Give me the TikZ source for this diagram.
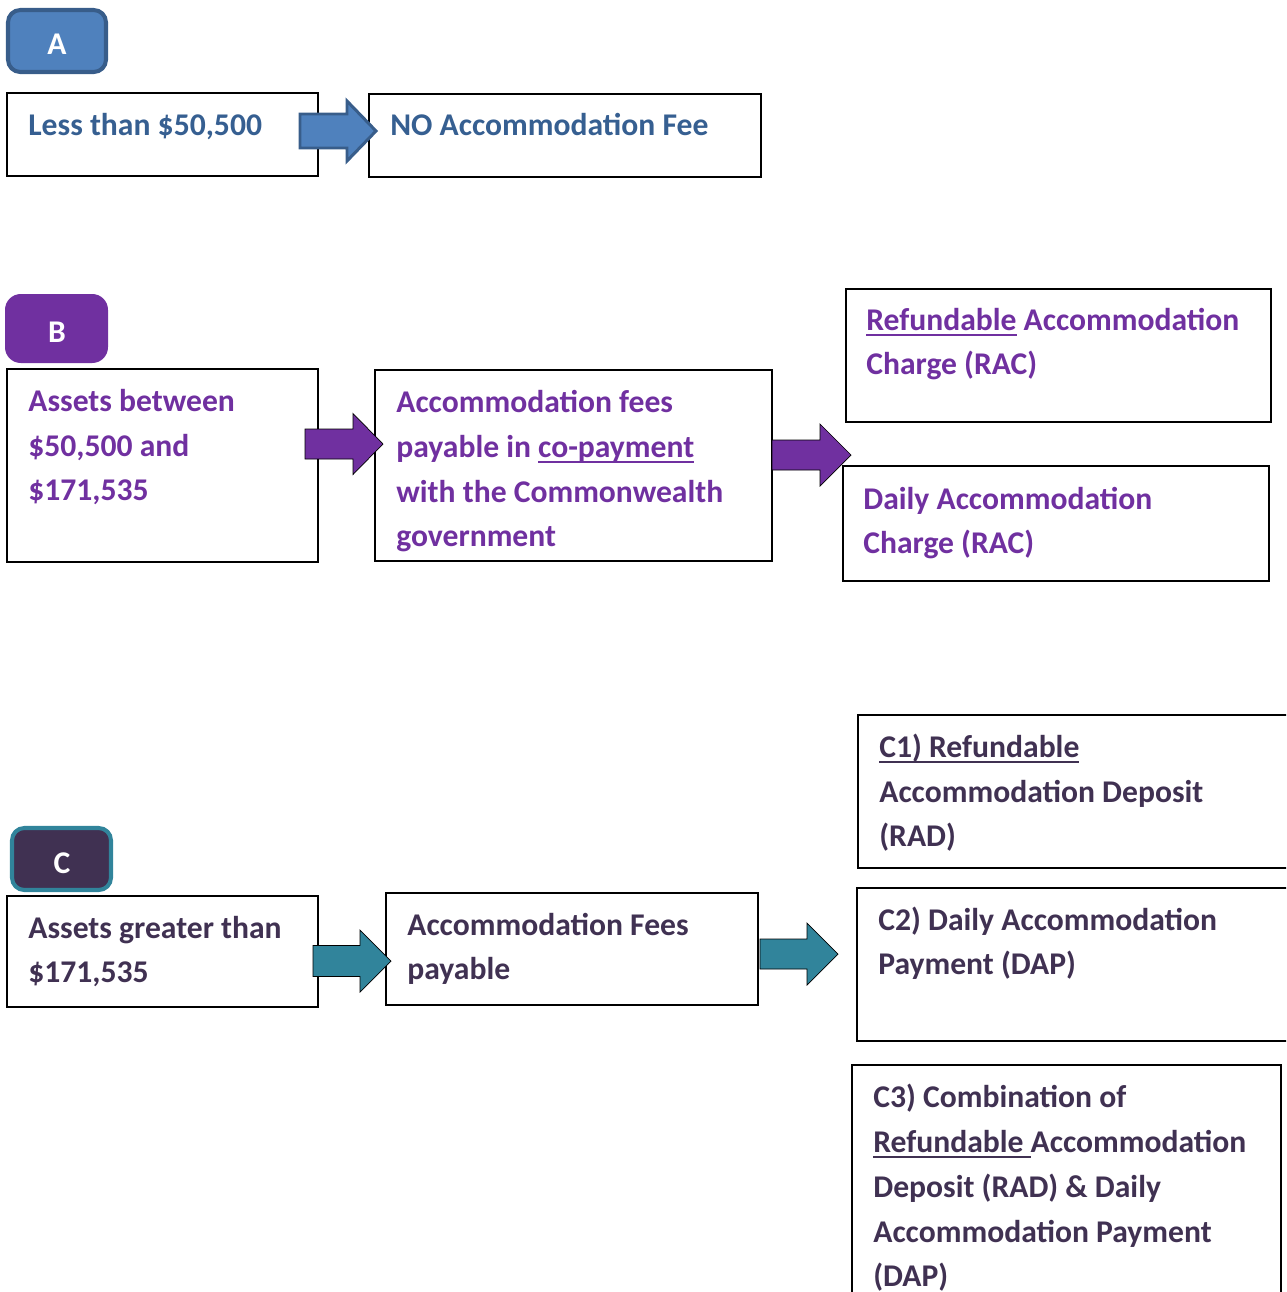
\documentclass[tikz,border=0pt]{standalone}
\usepackage{fontspec}
\setmainfont{Carlito}
\usetikzlibrary{fit}

\definecolor{blueA}{HTML}{365F91}
\definecolor{blueFill}{HTML}{4F81BD}
\definecolor{blueLine}{HTML}{385D8A}
\definecolor{purpleB}{HTML}{7030A0}
\definecolor{darkC}{HTML}{403152}
\definecolor{tealC}{HTML}{31849B}

% thick underline, a bit below the baseline
\newsavebox{\ulinebox}
\newcommand{\uln}[1]{\sbox{\ulinebox}{#1}\leavevmode\rlap{\rule[-3.3pt]{\wd\ulinebox}{1.1pt}}\usebox{\ulinebox}}

% block arrow: style, x start, x head, x tip, y mid, body half, head half
\newcommand{\blockarrow}[7]{%
   \draw[#1] (#2,#5-#6) -- (#3,#5-#6) -- (#3,#5-#7) -- (#4,#5)
      -- (#3,#5+#7) -- (#3,#5+#6) -- (#2,#5+#6) -- cycle;
}

\tikzset{
   box/.style={draw=black,line width=1.1pt,inner sep=0pt},
   txt/.style={align=left,inner sep=0pt,anchor=base west,yshift=-1.1pt,
      font=\bfseries\fontsize{18}{25.5}\selectfont},
   tag/.style={rounded corners=7pt,text=white,
      font=\bfseries\fontsize{18}{25.5}\selectfont}
}

\begin{document}
\begin{tikzpicture}[x=0.02cm,y=-0.02cm]

   \useasboundingbox (0,0) rectangle (1286,1292);
   \clip (0,0) rectangle (1286,1292);

   % group A (base of a text node = its last line)
   \draw[tag,fill=blueFill,draw=blueLine,line width=2.3pt] (8,10) rectangle (106,72);
   \node[text=white,font=\bfseries\fontsize{18}{25.5}\selectfont] (tagA) at (57,44) {A};
   \node[box,fit={(7,93) (318,176)}] (a1) {};
   \node[box,fit={(369,94) (761,177)}] (a2) {};
   \node[txt,text=blueA] (a1t) at (28,134) {Less than \$50,500};
   \node[txt,text=blueA] (a2t) at (390,134) {NO Accommodation Fee};
   \blockarrow{fill=blueFill,draw=blueLine,line width=1.7pt}{300}{347}{376}{131}{17}{30}

   % group B
   \fill[purpleB,rounded corners=9pt] (5,294) rectangle (108,363);
   \node[text=white,font=\bfseries\fontsize{18}{25.5}\selectfont] (tagB) at (57,332) {B};
   \node[box,fit={(7,369) (318,562)}] (b1) {};
   \node[box,fit={(375,370) (772,561)}] (b2) {};
   \node[box,fit={(846,289) (1271,422)}] (b3) {};
   \node[box,fit={(843,466) (1269,581)}] (b4) {};
   \node[txt,text=purpleB] (b1t) at (28,499) {Assets between\\\$50,500 and\\\$171,535};
   \node[txt,text=purpleB] (b2t) at (396,545) {Accommodation fees\\payable in \uln{co-payment}\\with the Commonwealth\\government};
   \node[txt,text=purpleB] (b3t) at (866,373) {\uln{Refundable} Accommodation\\Charge (RAC)};
   \node[txt,text=purpleB] (b4t) at (863,552) {Daily Accommodation\\Charge (RAC)};
   \blockarrow{fill=purpleB}{305}{353}{383}{444}{15}{30.5}
   \blockarrow{fill=purpleB}{772}{820}{851}{455}{15}{31}

   % group C
   \draw[tag,fill=darkC,draw=tealC,line width=2.3pt] (12,828) rectangle (111,890);
   \node[text=white,font=\bfseries\fontsize{18}{25.5}\selectfont] (tagC) at (62,863) {C};
   \node[box,fit={(7,896) (318,1007)}] (c1) {};
   \node[box,fit={(386,893) (758,1005)}] (c2) {};
   \node[box,fit={(858,715) (1300,868)}] (c3) {};
   \node[box,fit={(857,888) (1300,1041)}] (c4) {};
   \node[box,fit={(852,1065) (1281,1310)}] (c5) {};
   \node[txt,text=darkC] (c1t) at (28,981) {Assets greater than\\\$171,535};
   \node[txt,text=darkC] (c2t) at (407,978) {Accommodation Fees\\payable};
   \node[txt,text=darkC] (c3t) at (879,845) {\uln{C1) Refundable}\\Accommodation Deposit\\(RAD)};
   \node[txt,text=darkC] (c4t) at (878,973) {C2) Daily Accommodation\\Payment (DAP)};
   \node[txt,text=darkC] (c5t) at (873,1285) {C3) Combination of\\\uln{Refundable\ }Accommodation\\Deposit (RAD) \& Daily\\Accommodation Payment\\(DAP)};
   \blockarrow{fill=tealC}{313}{360}{391}{961}{15.5}{31}
   \blockarrow{fill=tealC}{760}{807}{838}{954}{15}{31}

\end{tikzpicture}
\end{document}
